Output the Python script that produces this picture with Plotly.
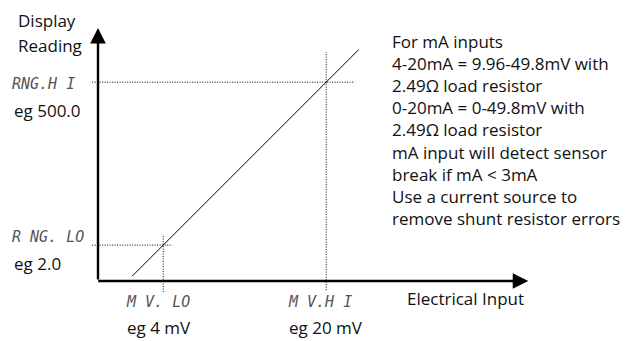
import plotly.graph_objects as go

# Schematic scaling diagram: display reading vs electrical input.
# Positions are in schematic units (not to scale), equal on both axes.
IN_LO, IN_HI = 2.0, 7.0          # MV.LO / MV.HI along the input axis
OUT_LO, OUT_HI = 1.1, 6.1        # RNG.LO / RNG.HI along the reading axis
line_x = [1.05, 8.0]             # extent of the transfer line
line_y = [0.15, 7.1]
axis_x_end, axis_y_end = 13.2, 7.76

y_title = ["Display", "Reading"]
hi_label, hi_example = "RNG.H I", "eg 500.0"
lo_label, lo_example = "R NG. LO", "eg 2.0"
mvlo_label, mvlo_example = "M V. LO", "eg 4 mV"
mvhi_label, mvhi_example = "M V.H I", "eg 20 mV"
x_title = "Electrical Input"
notes = [
    "For mA inputs",
    "4-20mA = 9.96-49.8mV with",
    "2.49Ω load resistor",
    "0-20mA = 0-49.8mV with",
    "2.49Ω load resistor",
    "mA input will detect sensor",
    "break if mA < 3mA",
    "Use a current source to",
    "remove shunt resistor errors",
]

W, H = 629, 341
S = 32.6                 # pixels per schematic unit
OX, OY = 98, 281         # origin in pixels
xr = [-OX / S, (W - OX) / S]
yr = [-(H - OY) / S, OY / S]

def px_x(p):
    return (p - OX) / S

def px_y(p):
    return (OY - p) / S

FONT = "Open Sans"
FS = 17
SEG = "DejaVu Sans Mono"
TXT = "#111111"
SEGC = "#555555"

fig = go.Figure()

# transfer line
fig.add_trace(go.Scatter(x=line_x, y=line_y, mode="lines",
                         line=dict(color="black", width=1), hoverinfo="skip"))

# dotted guide lines
dot = dict(color="black", width=1, dash="1px,1.5px")
fig.add_trace(go.Scatter(x=[-0.18, IN_HI + 0.88], y=[OUT_HI, OUT_HI], mode="lines", line=dot))
fig.add_trace(go.Scatter(x=[IN_HI, IN_HI], y=[-0.28, OUT_HI + 0.92], mode="lines", line=dot))
fig.add_trace(go.Scatter(x=[-0.18, IN_LO + 0.28], y=[OUT_LO, OUT_LO], mode="lines", line=dot))
fig.add_trace(go.Scatter(x=[IN_LO, IN_LO], y=[-0.34, OUT_LO + 0.33], mode="lines", line=dot))

ann = []
# axes with arrowheads
ann.append(dict(x=0, y=axis_y_end, ax=0, ay=0, xref="x", yref="y", axref="x", ayref="y",
                showarrow=True, arrowhead=2, arrowsize=1.3, arrowwidth=2.4, arrowcolor="black", text=""))
ann.append(dict(x=axis_x_end, y=0, ax=-0.04, ay=0, xref="x", yref="y", axref="x", ayref="y",
                showarrow=True, arrowhead=2, arrowsize=1.3, arrowwidth=2.4, arrowcolor="black", text=""))

def label(text, xp, yp, family=FONT, size=FS, color=TXT, xanchor="left"):
    ann.append(dict(x=px_x(xp), y=px_y(yp), xref="x", yref="y", text=text, showarrow=False,
                    xanchor=xanchor, yanchor="middle", font=dict(family=family, size=size, color=color)))

def seg(text, xp, yp):
    label("<i>" + text + "</i>", xp, yp, SEG, 15, SEGC)

label(y_title[0], 16, 20)
label(y_title[1], 16, 45)
seg(hi_label, 10, 84)
label(hi_example, 12, 110)
seg(lo_label, 10, 237)
label(lo_example, 12, 263)
seg(mvlo_label, 124, 302)
label(mvlo_example, 125, 327)
seg(mvhi_label, 286, 302)
label(mvhi_example, 287, 327)
label(x_title, 405, 298)
for i, t in enumerate(notes):
    label(t, 390, 41 + i * 22.2)

fig.update_layout(
    width=W, height=H, margin=dict(l=0, r=0, t=0, b=0),
    paper_bgcolor="white", plot_bgcolor="white", showlegend=False,
    xaxis=dict(range=xr, visible=False, fixedrange=True),
    yaxis=dict(range=yr, visible=False, fixedrange=True),
    annotations=ann,
)

fig.write_html("out.html", config={"displayModeBar": False})
